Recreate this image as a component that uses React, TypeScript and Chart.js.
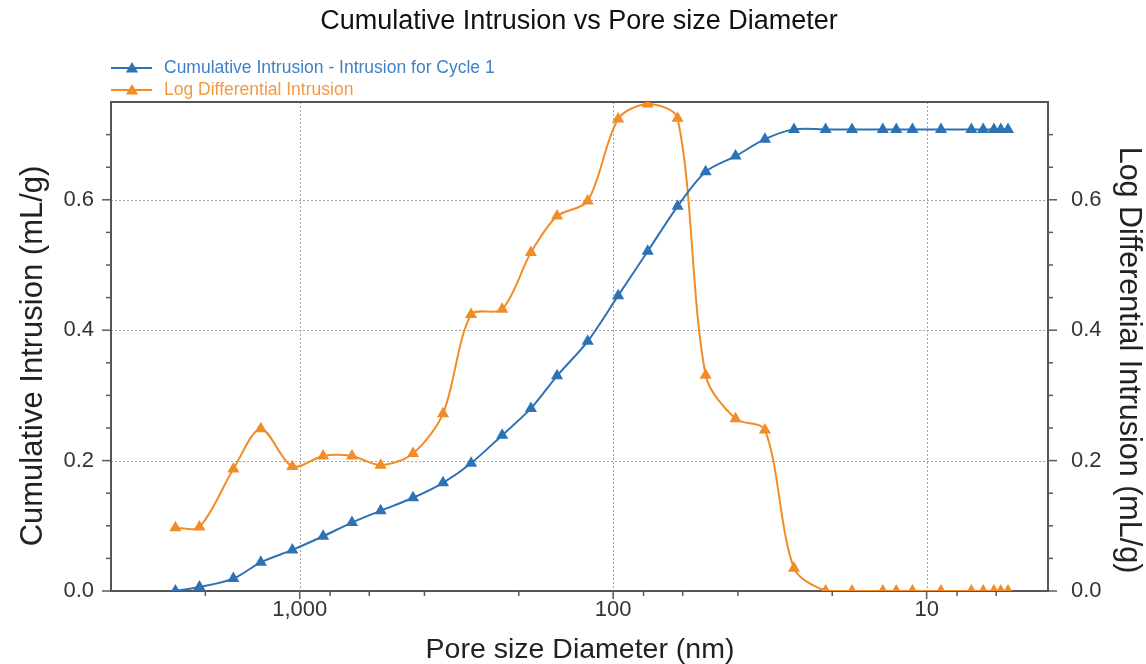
import React, { useEffect, useRef } from 'react';
import { Chart, registerables } from 'chart.js';

Chart.register(...registerables);

// Pore size diameters (nm) of the measured intrusion steps
const poreDiameters = [
  2492, 2089, 1628, 1331, 1056, 842, 681, 552, 435, 349, 284, 226, 183, 151, 120.6, 96.4, 77.6,
  62.3, 50.7, 40.7, 32.8, 26.5, 21.0, 17.3, 13.8, 12.5, 11.1, 9.0, 7.2, 6.6, 6.1, 5.8, 5.5,
];

// Cumulative Intrusion - Intrusion for Cycle 1 (mL/g)
const cumulativeIntrusion = [
  0.0, 0.006, 0.019, 0.044, 0.063, 0.084, 0.105, 0.123, 0.143, 0.166, 0.196, 0.239, 0.28, 0.33,
  0.383, 0.453, 0.521, 0.59, 0.643, 0.667, 0.693, 0.708, 0.708, 0.708, 0.708, 0.708, 0.708, 0.708,
  0.708, 0.708, 0.708, 0.708, 0.708,
];

// Log Differential Intrusion (mL/g)
const logDifferentialIntrusion = [
  0.097, 0.098, 0.187, 0.249, 0.191, 0.207, 0.207, 0.193, 0.211, 0.272, 0.424, 0.432, 0.519, 0.575,
  0.598, 0.724, 0.747, 0.725, 0.331, 0.264, 0.247, 0.035, 0, 0, 0, 0, 0, 0, 0, 0, 0, 0, 0,
];

const xTickValues = [1000, 100, 10];
const xMinorTickValues = [2000, 800, 600, 400, 200, 80, 60, 40, 20, 8, 6];
const yTickValues = [0, 0.2, 0.4, 0.6];
const yMinorTickValues = [0.05, 0.1, 0.15, 0.25, 0.3, 0.35, 0.45, 0.5, 0.55, 0.65, 0.7];

const chartTitle = 'Cumulative Intrusion vs Pore size Diameter';
const xAxisTitle = 'Pore size Diameter (nm)';
const yAxisTitle = 'Cumulative Intrusion (mL/g)';
const y1AxisTitle = 'Log Differential Intrusion (mL/g)';

const X_MIN = 4.1;
const X_MAX = 4000;
const Y_MAX = 0.75;

const BLUE = '#2c72b5';
const ORANGE = '#f28c28';
const FONT = '"Liberation Sans", Arial, Helvetica, sans-serif';

function drawTriangle(ctx: CanvasRenderingContext2D, x: number, y: number, r: number, color: string) {
  ctx.beginPath();
  ctx.moveTo(x, y - r);
  ctx.lineTo(x + 0.866 * r, y + 0.5 * r);
  ctx.lineTo(x - 0.866 * r, y + 0.5 * r);
  ctx.closePath();
  ctx.fillStyle = color;
  ctx.fill();
}

const framePlugin = {
  id: 'plotFrame',
  beforeDatasetsDraw(chart: any) {
    const { ctx, chartArea: a, scales } = chart;
    const xs = scales.x;
    const ys = scales.y;
    ctx.save();
    ctx.lineWidth = 1;
    ctx.strokeStyle = '#a3a3a3';
    ctx.setLineDash([2, 2]);
    for (const v of xTickValues) {
      const px = Math.round(xs.getPixelForValue(v)) + 0.5;
      ctx.beginPath();
      ctx.moveTo(px, a.top);
      ctx.lineTo(px, a.bottom);
      ctx.stroke();
    }
    for (const v of yTickValues) {
      if (v === 0) continue;
      const py = Math.round(ys.getPixelForValue(v)) + 0.5;
      ctx.beginPath();
      ctx.moveTo(a.left, py);
      ctx.lineTo(a.right, py);
      ctx.stroke();
    }
    ctx.setLineDash([]);
    ctx.lineWidth = 2;
    ctx.strokeStyle = '#555555';
    ctx.strokeRect(a.left, a.top, a.right - a.left, a.bottom - a.top);
    ctx.restore();
  },
  afterDraw(chart: any) {
    const { ctx, chartArea: a, scales } = chart;
    const xs = scales.x;
    const ys = scales.y;
    ctx.save();
    ctx.strokeStyle = '#5a5a5a';
    ctx.lineWidth = 1.5;
    const tick = (x1: number, y1: number, x2: number, y2: number) => {
      ctx.beginPath();
      ctx.moveTo(x1, y1);
      ctx.lineTo(x2, y2);
      ctx.stroke();
    };
    // y-axis ticks on both sides
    for (const v of yTickValues) {
      const py = ys.getPixelForValue(v);
      tick(a.left - 9, py, a.left, py);
      tick(a.right, py, a.right + 9, py);
    }
    for (const v of yMinorTickValues) {
      const py = ys.getPixelForValue(v);
      tick(a.left - 5, py, a.left, py);
      tick(a.right, py, a.right + 5, py);
    }
    // x-axis ticks
    for (const v of xTickValues) {
      const px = xs.getPixelForValue(v);
      tick(px, a.bottom, px, a.bottom + 8);
    }
    for (const v of xMinorTickValues) {
      const px = xs.getPixelForValue(v);
      tick(px, a.bottom, px, a.bottom + 5);
    }

    // titles
    ctx.textAlign = 'center';
    ctx.textBaseline = 'middle';
    ctx.fillStyle = '#111111';
    ctx.font = `27px ${FONT}`;
    ctx.fillText(chartTitle, 579, a.top - 80);

    ctx.fillStyle = '#222222';
    ctx.font = `28.5px ${FONT}`;
    ctx.fillText(xAxisTitle, 580, a.bottom + 59);

    ctx.save();
    ctx.translate(33, a.top + 254);
    ctx.rotate(-Math.PI / 2);
    ctx.font = `31px ${FONT}`;
    ctx.fillText(yAxisTitle, 0, 0);
    ctx.restore();

    ctx.save();
    ctx.translate(a.right + 80, a.top + 258);
    ctx.rotate(Math.PI / 2);
    ctx.font = `30.5px ${FONT}`;
    ctx.fillText(y1AxisTitle, 0, 0);
    ctx.restore();

    // legend: line sample with marker, coloured label
    const entries = [
      { text: chart.data.datasets[0].label, color: BLUE, textColor: '#3f82c4' },
      { text: chart.data.datasets[1].label, color: ORANGE, textColor: '#f29a42' },
    ];
    ctx.font = `17.5px ${FONT}`;
    ctx.textBaseline = 'middle';
    ctx.textAlign = 'left';
    entries.forEach((e, i) => {
      const ly = a.top - 34 + i * 22;
      ctx.strokeStyle = e.color;
      ctx.lineWidth = 2;
      ctx.beginPath();
      ctx.moveTo(a.left, ly);
      ctx.lineTo(a.left + 41, ly);
      ctx.stroke();
      drawTriangle(ctx, a.left + 21, ly + 1, 7, e.color);
      ctx.fillStyle = e.textColor;
      ctx.fillText(e.text, a.left + 53, ly);
    });
    ctx.restore();
  },
};

export default function App() {
  const canvasRef = useRef<HTMLCanvasElement | null>(null);

  useEffect(() => {
    const canvas = canvasRef.current;
    if (!canvas) return;
    Chart.defaults.font.family = FONT;

    const cumulativePoints = poreDiameters.map((d, i) => ({ x: d, y: cumulativeIntrusion[i] }));
    const logDiffPoints = poreDiameters.map((d, i) => ({ x: d, y: logDifferentialIntrusion[i] }));

    const tickFormat = (v: any) => Number(v).toFixed(1);

    const chart = new Chart(canvas, {
      type: 'line',
      data: {
        datasets: [
          {
            label: 'Cumulative Intrusion - Intrusion for Cycle 1',
            data: cumulativePoints,
            yAxisID: 'y',
            borderColor: BLUE,
            backgroundColor: BLUE,
            borderWidth: 2,
            pointStyle: 'triangle',
            pointRadius: 7,
            pointBorderWidth: 0,
            tension: 0.3,
          },
          {
            label: 'Log Differential Intrusion',
            data: logDiffPoints,
            yAxisID: 'y1',
            borderColor: ORANGE,
            backgroundColor: ORANGE,
            borderWidth: 2,
            pointStyle: 'triangle',
            pointRadius: 7,
            pointBorderWidth: 0,
            tension: 0.3,
          },
        ],
      },
      options: {
        responsive: false,
        animation: false,
        layout: { padding: { top: 102, left: 0, right: 0, bottom: 0 } },
        plugins: {
          legend: { display: false },
          tooltip: { enabled: false },
          title: { display: false },
        },
        scales: {
          x: {
            type: 'logarithmic',
            reverse: true,
            min: X_MIN,
            max: X_MAX,
            afterBuildTicks: (s: any) => {
              s.ticks = xTickValues.map((value) => ({ value }));
            },
            afterFit: (s: any) => {
              s.height = 73;
            },
            ticks: {
              callback: (v: any) => Number(v).toLocaleString('en-US'),
              font: { size: 22 },
              color: '#333333',
              padding: -2,
              maxRotation: 0,
              autoSkip: false,
            },
            grid: { display: false },
            border: { display: false },
          },
          y: {
            position: 'left',
            min: 0,
            max: Y_MAX,
            afterBuildTicks: (s: any) => {
              s.ticks = yTickValues.map((value) => ({ value }));
            },
            afterFit: (s: any) => {
              s.width = 111;
            },
            ticks: { callback: tickFormat, font: { size: 22 }, color: '#333333', padding: 9 },
            grid: { display: false },
            border: { display: false },
          },
          y1: {
            position: 'right',
            min: 0,
            max: Y_MAX,
            afterBuildTicks: (s: any) => {
              s.ticks = yTickValues.map((value) => ({ value }));
            },
            afterFit: (s: any) => {
              s.width = 98;
            },
            ticks: { callback: tickFormat, font: { size: 22 }, color: '#333333', padding: 15 },
            grid: { display: false },
            border: { display: false },
          },
        },
      },
      plugins: [framePlugin],
    } as any);

    return () => chart.destroy();
  }, []);

  return (
    <div style={{ position: 'absolute', left: 0, top: 0, width: 1146, height: 664, background: '#ffffff' }}>
      <canvas ref={canvasRef} width={1146} height={664} style={{ display: 'block' }} />
    </div>
  );
}
